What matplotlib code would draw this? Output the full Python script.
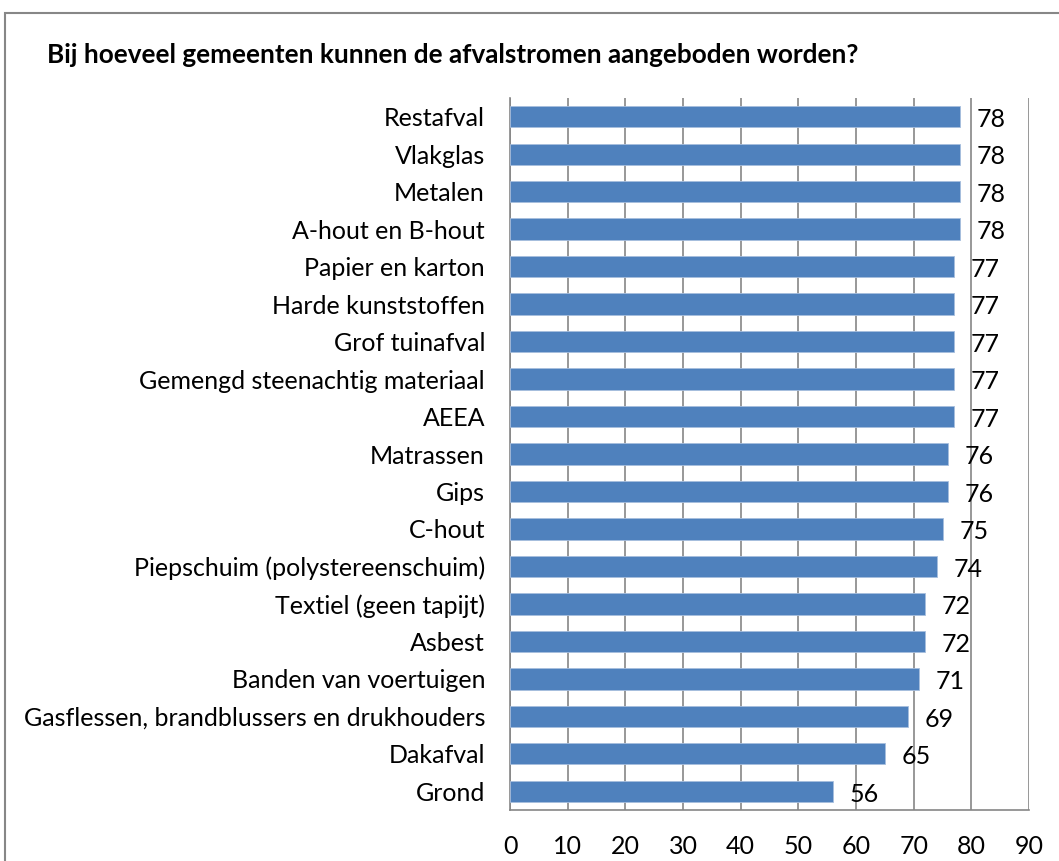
import matplotlib.pyplot as plt
from matplotlib.patches import Rectangle

categories = ['Restafval', 'Vlakglas', 'Metalen', 'A-hout en B-hout', 'Papier en karton',
              'Harde kunststoffen', 'Grof tuinafval', 'Gemengd steenachtig materiaal', 'AEEA',
              'Matrassen', 'Gips', 'C-hout', 'Piepschuim (polystereenschuim)',
              'Textiel (geen tapijt)', 'Asbest', 'Banden van voertuigen',
              'Gasflessen, brandblussers en drukhouders', 'Dakafval', 'Grond']
values = [78, 78, 78, 78, 77, 77, 77, 77, 77, 76, 76, 75, 74, 72, 72, 71, 69, 65, 56]
xticks = [0, 10, 20, 30, 40, 50, 60, 70, 80, 90]

plt.rcParams['font.family'] = ['Lato', 'DejaVu Sans']

W, H = 1059, 861
fig = plt.figure(figsize=(W / 100, H / 100), dpi=100)
ax = fig.add_axes([510 / W, 1 - 810 / H, (1029 - 510) / W, (810 - 98) / H])

# outer chart border (cropped on right/bottom)
fig.patches.append(Rectangle((5 / W, -0.05), 1.2, 1 - 13 / H + 0.05, transform=fig.transFigure,
                             fill=False, edgecolor='#878787', linewidth=1.5))

y = list(range(len(categories)))
ax.barh(y, values, height=0.57, color='#4F81BD', edgecolor='#A7BEDE', linewidth=0.6, zorder=3)
for yi, v in zip(y, values):
    ax.annotate(str(v), (v, yi), xytext=(12, -2), textcoords='offset points',
                ha='left', va='center', fontsize=18, color='black', zorder=4)

ax.set_ylim(len(categories) - 0.5, -0.5)
ax.set_xlim(0, 90)
ax.set_xticks(xticks)
ax.set_yticks(y)
ax.set_yticklabels(categories)
ax.tick_params(axis='y', length=0, pad=18, labelsize=18)
ax.tick_params(axis='x', length=0, pad=18, labelsize=18)
ax.xaxis.grid(True, color='#868686', linewidth=1.2, zorder=0)
for s in ['top', 'right']:
    ax.spines[s].set_visible(False)
ax.spines['left'].set_color('#868686')
ax.spines['bottom'].set_color('#868686')
ax.spines['left'].set_linewidth(1.2)
ax.spines['bottom'].set_linewidth(1.2)

fig.text(47 / W, 1 - 55 / H, 'Bij hoeveel gemeenten kunnen de afvalstromen aangeboden worden?',
         fontsize=18.8, fontweight='bold', ha='left', va='center')

fig.savefig('out.png', dpi=100)
